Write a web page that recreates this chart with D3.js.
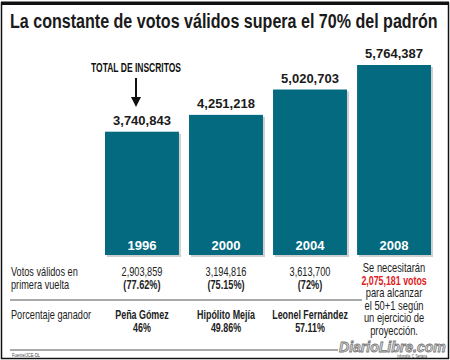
<!DOCTYPE html>
<html>
<head>
<meta charset="utf-8">
<script src="https://cdn.jsdelivr.net/npm/d3@7"></script>
<style>
  body { margin: 0; background: #fff; }
  svg { display: block; }
  text { font-family: "Liberation Sans", Arial, sans-serif; }
</style>
</head>
<body>
<div id="root"></div>
<script>
const years = ['1996', '2000', '2004', '2008']
const inscritos = [3740843, 4251218, 5020703, 5764387]
const validos = [2903859, 3194816, 3613700]
const validosPct = ['(77.62%)', '(75.15%)', '(72%)']
const ganadores = ['Peña Gómez', 'Hipólito Mejía', 'Leonel Fernández']
const ganadorPct = ['46%', '49.86%', '57.11%']
const nota = ['Se necesitarán', '2,075,181 votos', 'para alcanzar', 'el 50+1 según', 'un ejercicio de', 'proyección.']

const W = 450, H = 360
const teal = '#046a80'
let svg = d3.select('#root').append('svg').attr('width', W).attr('height', H)

// frame
svg.append('rect').attr('x', 1.5).attr('y', 3).attr('width', W - 3).attr('height', H - 4.5)
   .attr('fill', 'none').attr('stroke', '#111').attr('stroke-width', 1.5)
svg.append('rect').attr('x', 1).attr('y', 1.5).attr('width', W - 2).attr('height', 3.5).attr('fill', '#111')

// condensed text: no narrow font installed, so squeeze horizontally
let ctext = (txt, xx, yy, opts = {}) => {
  let g = svg.append('g').attr('transform', `translate(${xx},${yy}) scale(${opts.sx || 0.68},1)`)
  return g.append('text')
     .attr('text-anchor', opts.anchor || 'start')
     .attr('font-size', opts.size || 13.5)
     .attr('font-weight', opts.bold ? 'bold' : 'normal')
     .attr('font-style', opts.italic ? 'italic' : 'normal')
     .attr('fill', opts.fill || '#222')
     .text(txt)
}
// squeeze a text so it spans a given width
let fitText = (t, xx, yy, w) => {
  let len = t.node().getComputedTextLength()
  d3.select(t.node().parentNode).attr('transform', `translate(${xx},${yy}) scale(${w / len},1)`)
}

let title = ctext('La constante de votos válidos supera el 70% del padrón', 10, 28, { size: 20, bold: true, fill: '#1a1a1a', sx: 1 })
fitText(title, 10, 28, 428)

let x = d3.scaleBand().domain(years).range([105, 431]).paddingInner(0.12)
let y = d3.scaleLinear().domain([0, d3.max(inscritos)]).range([255, 65])
let fmt = d3.format(',')

let bars = svg.selectAll('.bar').data(years).enter().append('g').attr('class', 'bar')

// soft shadow
bars.append('rect')
    .attr('x', d => x(d) + 2).attr('y', (d, i) => y(inscritos[i]) + 2)
    .attr('width', x.bandwidth()).attr('height', (d, i) => y(0) - y(inscritos[i]))
    .attr('fill', '#cfcfcf')
bars.append('rect')
    .attr('x', d => x(d)).attr('y', (d, i) => y(inscritos[i]))
    .attr('width', x.bandwidth()).attr('height', (d, i) => y(0) - y(inscritos[i]))
    .attr('fill', teal)

bars.append('text')
    .attr('x', d => x(d) + x.bandwidth() / 2).attr('y', (d, i) => y(inscritos[i]) - 7)
    .attr('text-anchor', 'middle').attr('font-size', 13).attr('font-weight', 'bold').attr('fill', '#1a1a1a')
    .text((d, i) => fmt(inscritos[i]))

bars.append('text')
    .attr('x', d => x(d) + x.bandwidth() / 2).attr('y', 250)
    .attr('text-anchor', 'middle').attr('font-size', 13).attr('font-weight', 'bold').attr('fill', '#fff')
    .text(d => d)

// total de inscritos label + arrow
let ax = x(years[0]) + 31
ctext('TOTAL DE INSCRITOS', ax, 72, { anchor: 'middle', size: 12.5, bold: true, fill: '#111' })
svg.append('line').attr('x1', ax).attr('x2', ax).attr('y1', 78).attr('y2', 98)
   .attr('stroke', '#111').attr('stroke-width', 2)
svg.append('path').attr('d', `M${ax - 5},97 L${ax + 5},97 L${ax},107 Z`).attr('fill', '#111')

// table
ctext('Votos válidos en', 11, 276)
ctext('primera vuelta', 11, 289)
validos.forEach((v, i) => {
  let cx = x(years[i]) + x.bandwidth() / 2
  ctext(fmt(v), cx, 276, { anchor: 'middle' })
  ctext(validosPct[i], cx, 289, { anchor: 'middle', bold: true })
})

svg.append('line').attr('x1', 10).attr('x2', 362).attr('y1', 300).attr('y2', 300)
   .attr('stroke', '#555').attr('stroke-width', 1.2)

ctext('Porcentaje ganador', 11, 319)
ganadores.forEach((g, i) => {
  let cx = x(years[i]) + x.bandwidth() / 2
  ctext(g, cx, 319, { anchor: 'middle', bold: true, sx: 0.66 })
  ctext(ganadorPct[i], cx, 332, { anchor: 'middle', bold: true, sx: 0.66 })
})

let nx = x(years[3]) + x.bandwidth() / 2
nota.forEach((t, i) => {
  ctext(t, nx, 272 + i * 12.6, { anchor: 'middle', size: 13, bold: i === 1, sx: i === 1 ? 0.68 : 0.72, fill: i === 1 ? '#e0201b' : '#222' })
})

svg.append('line').attr('x1', 10).attr('x2', 338).attr('y1', 350).attr('y2', 350)
   .attr('stroke', '#555').attr('stroke-width', 1)
ctext('Fuente/JCE-DL', 12, 356.5, { size: 6, fill: '#444' })

// logo
let logo = ctext('DiarioLibre.com', 339, 352, { size: 15, bold: true, italic: true, fill: '#d8d8d8', sx: 1 })
   .attr('stroke', '#777').attr('stroke-width', 0.8)
fitText(logo, 339, 352, 107)
ctext('Infografía: C. Santana', 412, 357.5, { anchor: 'middle', size: 4.5, fill: '#333' })
</script>
</body>
</html>
